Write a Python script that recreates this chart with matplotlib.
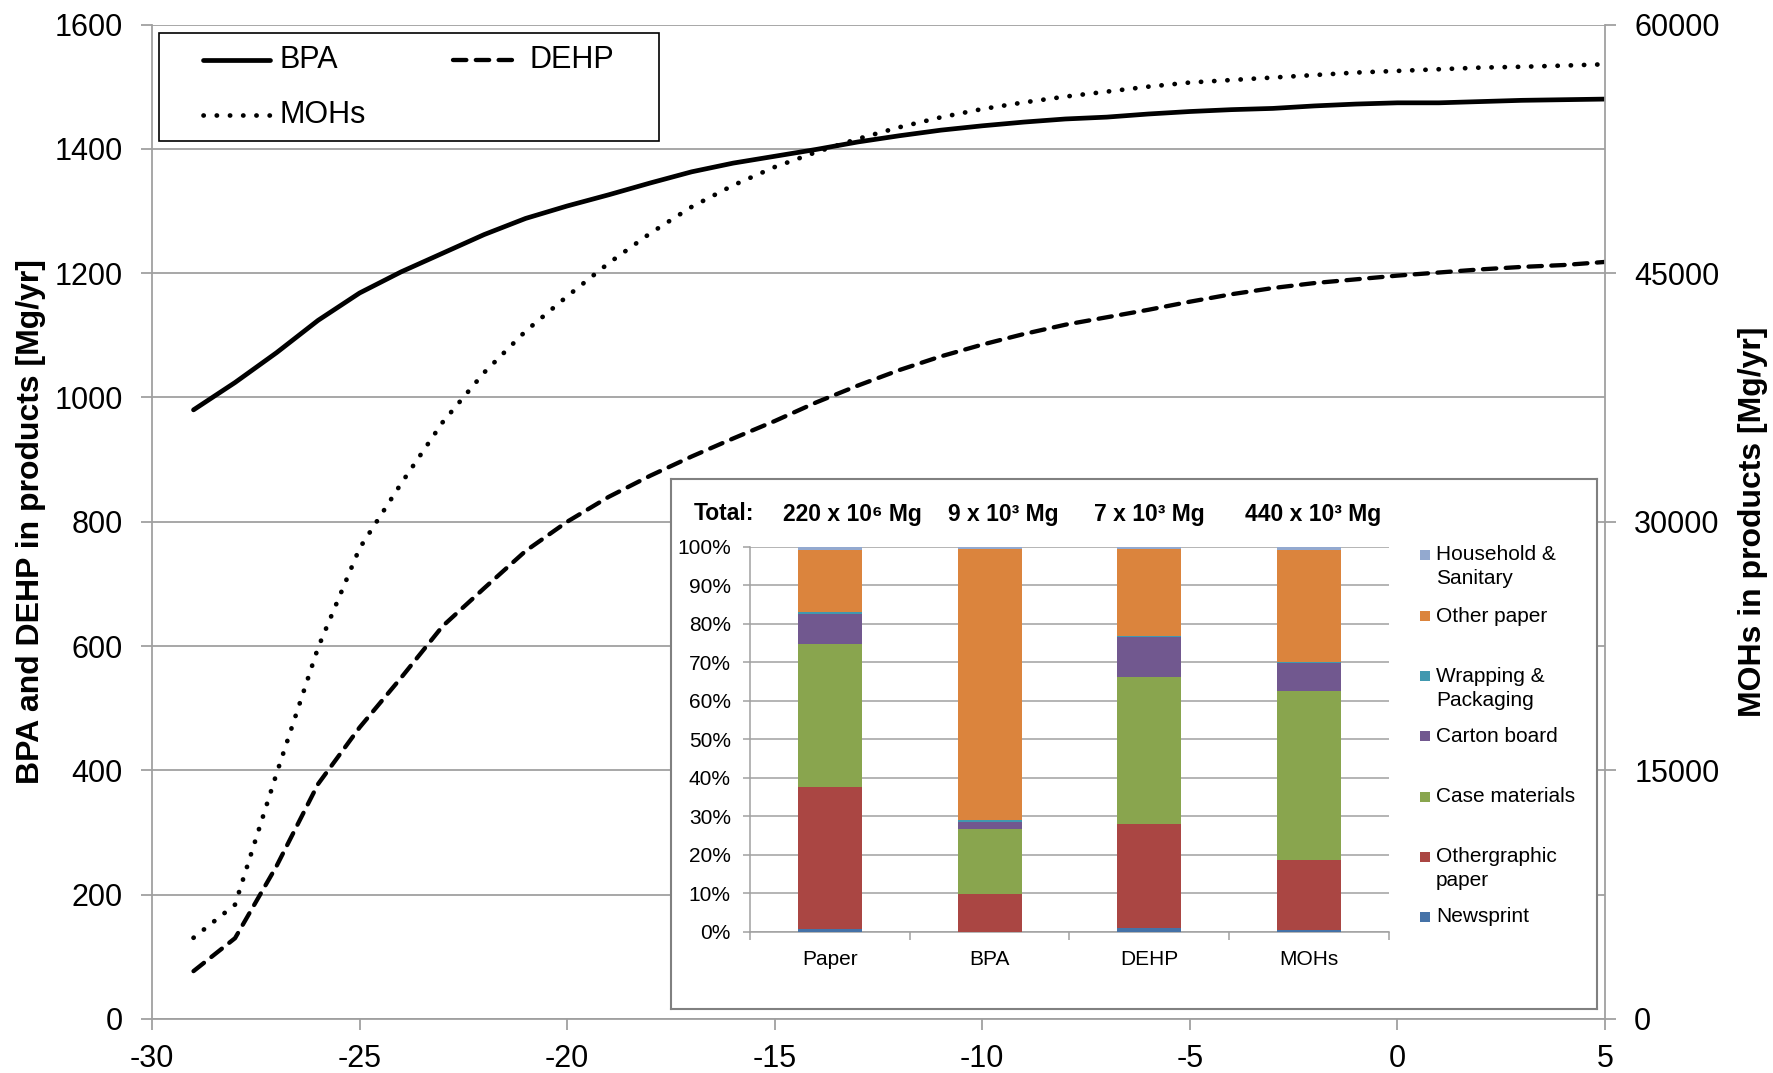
import matplotlib
matplotlib.use('Agg')
import matplotlib.pyplot as plt
from matplotlib.lines import Line2D
from matplotlib.patches import Rectangle

plt.rcParams['font.family'] = ['Liberation Sans', 'DejaVu Sans']
plt.rcParams['axes.unicode_minus'] = False

W, H = 1773, 1073  # canvas size in px (dpi 100)


def fx(px):
    return px / W


def fy(py):
    return 1 - py / H


# ---- time series (year relative to 0) ----
years = list(range(-29, 6))
bpa = [980, 1024, 1072, 1124, 1168, 1202, 1232, 1262, 1288, 1308,
       1326, 1345, 1363, 1377, 1388, 1399, 1411, 1421, 1430, 1437,
       1443, 1448, 1451, 1456, 1460, 1463, 1465, 1469, 1472, 1474,
       1474, 1476, 1478, 1479, 1480]
dehp = [77, 130, 246, 378, 469, 549, 632, 693, 753, 800,
        840, 874, 905, 934, 962, 992, 1019, 1044, 1066, 1085,
        1102, 1117, 1129, 1141, 1154, 1166, 1176, 1184, 1190, 1196,
        1201, 1206, 1210, 1213, 1218]
mohs = [4900, 6900, 14800, 22400, 28400, 32300, 36000, 39000, 41500, 43600,
        45600, 47400, 49000, 50300, 51400, 52300, 53100, 53800, 54400, 54900,
        55300, 55650, 55950, 56250, 56500, 56650, 56800, 56950, 57100, 57200,
        57300, 57400, 57450, 57520, 57600]

# ---- inset: share of each paper grade (%) ----
groups = ['Paper', 'BPA', 'DEHP', 'MOHs']
totals = ['220 x 10\u2076 Mg', '9 x 10\u00b3 Mg', '7 x 10\u00b3 Mg', '440 x 10\u00b3 Mg']
newsprint = [0.6, 0.0, 0.9, 0.5]
othergraphic = [37.1, 9.8, 27.1, 18.1]
case_mat = [37.0, 16.9, 38.2, 44.0]
carton = [7.8, 1.9, 10.4, 7.3]
wrapping = [0.6, 0.4, 0.3, 0.2]
other_paper = [16.2, 70.4, 22.5, 29.2]
household = [0.7, 0.6, 0.6, 0.7]

grades = [newsprint, othergraphic, case_mat, carton, wrapping, other_paper, household]
grade_names = ['Newsprint', 'Othergraphic\npaper', 'Case materials', 'Carton board',
               'Wrapping &\nPackaging', 'Other paper', 'Household &\nSanitary']
grade_colors = ['#4572A7', '#AA4643', '#89A54E', '#71588F', '#4198AF', '#DB843D', '#93A9CF']

GRID = '#A0A0A0'
BPA_STYLE = dict(lw=3.4, solid_capstyle='round', solid_joinstyle='round')
DEHP_STYLE = dict(lw=3.1, dashes=(3.1, 2.2), dash_capstyle='round', dash_joinstyle='round')
MOHS_STYLE = dict(lw=3.4, dashes=(0.05, 2.75), dash_capstyle='round')

fig = plt.figure(figsize=(W / 100, H / 100), dpi=100)

# ---- main chart ----
ax = fig.add_axes([fx(152), fy(1019), (1605 - 152) / W, (1019 - 24.5) / H])
ax.plot(years, bpa, color='black', **BPA_STYLE)
ax.plot(years, dehp, color='black', **DEHP_STYLE)
ax.set_xlim(-30, 5)
ax.set_ylim(0, 1600)
ax.set_xticks(range(-30, 6, 5))
ax.set_yticks(range(0, 1601, 200))
ax.grid(axis='y', color=GRID, lw=1.3)
ax.set_axisbelow(True)
for s in ['top', 'right']:
    ax.spines[s].set_visible(False)
for s in ['left', 'bottom']:
    ax.spines[s].set_color(GRID)
    ax.spines[s].set_linewidth(1.3)
ax.tick_params(axis='both', direction='out', length=8, width=1.3, color=GRID,
               labelsize=22, pad=13)
ax.tick_params(axis='x', pad=10)

ax2 = ax.twinx()
ax2.plot(years, mohs, color='black', **MOHS_STYLE)
ax2.set_ylim(0, 60000)
ax2.set_yticks(range(0, 60001, 15000))
for s in ['top', 'left', 'bottom']:
    ax2.spines[s].set_visible(False)
ax2.spines['right'].set_color(GRID)
ax2.spines['right'].set_linewidth(1.3)
ax2.tick_params(axis='y', direction='out', length=8, width=1.3, color=GRID,
                labelsize=22, pad=13)

fig.text(fx(31), fy(522), 'BPA and DEHP in products [Mg/yr]', rotation=90,
         ha='center', va='center', fontsize=23, fontweight='bold')
fig.text(fx(1753), fy(522), 'MOHs in products [Mg/yr]', rotation=90,
         ha='center', va='center', fontsize=23, fontweight='bold')

# ---- legend for the three curves ----
fig.add_artist(Rectangle((fx(159), fy(141)), (659 - 159) / W, (141 - 33) / H,
                         transform=fig.transFigure, facecolor='white',
                         edgecolor='black', lw=1.2, zorder=10))
leg_items = [('BPA', 201, 60, BPA_STYLE),
             ('DEHP', 451, 60, DEHP_STYLE),
             ('MOHs', 201, 115, MOHS_STYLE)]
for name, x0, y0, style in leg_items:
    fig.add_artist(Line2D([fx(x0 + 2), fx(x0 + 69)], [fy(y0), fy(y0)],
                          transform=fig.transFigure, color='black', zorder=11, **style))
    fig.text(fx(x0 + 79), fy(y0), name, ha='left', va='center', fontsize=22, zorder=11)

# ---- inset frame ----
frame = fig.add_axes([fx(670.5), fy(1008.6), (1596.6 - 670.5) / W, (1008.6 - 479.4) / H])
frame.set_zorder(5)
frame.set_xticks([])
frame.set_yticks([])
for s in frame.spines.values():
    s.set_color('#808080')
    s.set_linewidth(1.5)

# ---- inset stacked bars ----
ins = fig.add_axes([fx(750.3), fy(931.7), (1388.5 - 750.3) / W, (931.7 - 547) / H])
ins.set_zorder(6)
xpos = list(range(len(groups)))
bottom = [0.0] * len(groups)
for vals, col in zip(grades, grade_colors):
    ins.bar(xpos, vals, width=0.4, bottom=bottom, color=col, lw=0, zorder=3)
    bottom = [b + v for b, v in zip(bottom, vals)]
ins.set_xlim(-0.5, 3.5)
ins.set_ylim(0, 100)
ins.set_yticks(range(0, 101, 10))
ins.set_yticklabels([f'{v}%' for v in range(0, 101, 10)])
ins.set_xticks(xpos)
ins.set_xticklabels(groups)
ins.set_xticks([-0.5, 0.5, 1.5, 2.5, 3.5], minor=True)
ins.grid(axis='y', color=GRID, lw=1.1, zorder=0)
for s in ['top', 'right']:
    ins.spines[s].set_visible(False)
for s in ['left', 'bottom']:
    ins.spines[s].set_color(GRID)
    ins.spines[s].set_linewidth(1.1)
ins.tick_params(axis='y', direction='out', length=5, width=1.1, color=GRID,
                labelsize=15, pad=9)
ins.tick_params(axis='x', which='major', length=0, labelsize=15, pad=13)
ins.tick_params(axis='x', which='minor', direction='out', length=6, width=1.1, color=GRID)

fig.text(fx(694), fy(514), 'Total:', ha='left', va='center', fontsize=16.5,
         fontweight='bold', zorder=12)
for label, x0 in zip(totals, [852, 1003, 1149, 1313]):
    fig.text(fx(x0), fy(514), label, ha='center', va='center', fontsize=16.5,
             fontweight='bold', zorder=12)

# legend of the inset, top entry first
marker_y = [555, 616, 676, 736, 797, 857, 917]
for name, col, y0 in zip(grade_names[::-1], grade_colors[::-1], marker_y):
    fig.add_artist(Rectangle((fx(1420), fy(y0 + 5)), 10 / W, 10 / H,
                             transform=fig.transFigure, facecolor=col,
                             edgecolor='none', zorder=12))
    for k, line in enumerate(name.split('\n')):
        fig.text(fx(1436), fy(y0 + 24 * k), line, ha='left', va='center',
                 fontsize=15, zorder=12)

fig.savefig('out.png', dpi=100)
